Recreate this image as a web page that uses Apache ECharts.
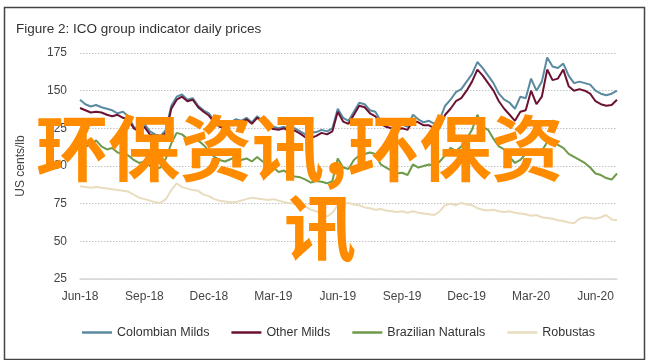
<!DOCTYPE html>
<html>
<head>
<meta charset="utf-8">
<script src="https://cdn.jsdelivr.net/npm/echarts@6/dist/echarts.min.js"></script>
<style>html,body{margin:0;padding:0;background:#fff;}#c{width:646px;height:360px;}</style>
</head>
<body>
<div id="c"></div>
<script>
// Months since 1 Jun 2018, one sample every quarter month
const STEP = 0.25;
const tickLabels = ['Jun-18','Sep-18','Dec-18','Mar-19','Jun-19','Sep-19','Dec-19','Mar-20','Jun-20'];
const seriesNames = ['Colombian Milds','Other Milds','Brazilian Naturals','Robustas'];

const colombianMilds = [144,141,139.5,140.5,139,138,137,135,136,133,126,124,128,123,121,120,124,140,146,147.5,144,145,140,137,135,130,127,126,129,131,130,132,129,133,130,127,126,125,126,124.5,125,123,121,122,122.5,124,123,125,138,132,130,136,142,141,137,136,130,128,127,126,127.5,126,134,131,129,130,128,131,140,144,149,151,156,161,169,165,160,155,148,144,142,138,146,145,158,150,156,172,166,165,168,160,155,156,155,154,150,148,147,148,150];
const otherMilds = [138.5,137,135.5,136,135.5,134,133,134,132,131,125,123,126,121,120,119,122,138,144,146,143,144,139,136,133.5,129,126,125,128,130,129,131,128,132,129,126,124.5,124,125,123,123.5,121.5,119,118.5,120,122,121,123,136,129.5,128,134,140,139,135,133,128,126,125,124,125,124,130,129,127,127,125,126,134,138,143,145,150,156,164,160,155,150,143,138,134,130,136,137,150,141,146,164,157,158,164,153,150,151,150,148,143,141,140,140.5,144];
const brazilianNaturals = [115,113,114,117,113,111,112,109,108,107,104,102,103,100,98,99,105,115,122,121,118,119,117,114,110,106,104,103,104.5,106,104,105,103,106,103,101,99,96,97,94,93,92.5,91,89,90,89.5,88.5,90,105,99,98,104,107,108,109,108,101,99,97,95,95.5,94,101,99,100,101,100,103,107,112,110,113,118,124,134,126,124,118,113,111,106,102,104,108,109,111,110,116,117.5,114,112,108,106,104,102,99,95,94,92,91,95];
const robustas = [86.5,86,85.5,86,85.5,85,84.5,84,83.5,83,81,79,78,77,76,75.5,78,84,88.5,86,85,84,83.5,81,80,78,77,76.5,76,76,77,78,79,78.5,78,77.5,78,77,76,75.5,75,74,73,71,70,68,66.5,69,74,75,75.5,74.5,74,72.5,72,71,71.5,70.5,70,69.5,70,69,70,69,68.5,68,67.5,70,74,75,74,75.5,74.5,74,72,71,70.5,71,70,69.5,70,69,68.5,68,67,67.5,66,65.5,65,64,63.5,62.5,62,65,66,65.5,65,66,67.5,64.5,64];

const colors = ['#5a8a9f','#6b1232','#6e9a4b','#e9dcbf'];
const allData = [colombianMilds, otherMilds, brazilianNaturals, robustas];

const chart = echarts.init(document.getElementById('c'), null, {renderer:'canvas'});
const font = 'Liberation Sans';
chart.setOption({
  animation: false,
  backgroundColor: '#fff',
  title: {
    text: 'Figure 2: ICO group indicator daily prices',
    left: 11, top: 17,
    textStyle: {fontFamily: font, fontSize: 13.5, fontWeight: 'normal', color: '#333'}
  },
  legend: {
    left: 77, top: 321,
    icon: 'rect',
    itemWidth: 30, itemHeight: 2.5, itemGap: 22,
    textStyle: {fontFamily: font, fontSize: 12.5, color: '#333'},
    data: seriesNames
  },
  grid: {left: 80, right: 29, top: 53, bottom: 81},
  xAxis: {
    type: 'value', min: 0, max: 25, interval: 3,
    axisLine: {show: true, lineStyle: {color: '#d6d6d6', width: 1.5}},
    axisTick: {show: false},
    splitLine: {show: false},
    axisLabel: {
      fontFamily: font, fontSize: 12, color: '#444', margin: 12,
      showMaxLabel: false,
      formatter: v => (v % 3 === 0 && tickLabels[v/3] !== undefined) ? tickLabels[v/3] : ''
    }
  },
  yAxis: {
    type: 'value', min: 25, max: 175, interval: 25,
    name: 'US cents/lb', nameLocation: 'middle', nameGap: 53, nameRotate: 90,
    nameTextStyle: {fontFamily: font, fontSize: 12, color: '#444'},
    axisLine: {show: false}, axisTick: {show: false},
    axisLabel: {fontFamily: font, fontSize: 12, color: '#444', margin: 13},
    splitLine: {show: true, lineStyle: {color: '#c4c4c4', type: [1.5,1.5], width: 1}}
  },
  series: seriesNames.map((n, k) => ({
    name: n, type: 'line', symbol: 'none', showSymbol: false,
    color: colors[k],
    lineStyle: {color: colors[k], width: 2},
    data: allData[k].map((v, i) => [i * STEP, v])
  })),
  graphic: [
    {type: 'rect', left: 2, top: 5, z: 100, silent: true,
     shape: {width: 640, height: 352},
     style: {fill: 'none', stroke: '#444', lineWidth: 1.5}},
    {type: 'text', left: 36, top: 112, z: 100,
     style: {text: '环保资讯,环保资', fill: '#ff8c00', fontSize: 72, fontWeight: 'bold', fontFamily: 'Noto Sans CJK SC'}},
    {type: 'text', left: 284, top: 192, z: 100,
     style: {text: '讯', fill: '#ff8c00', fontSize: 72, fontWeight: 'bold', fontFamily: 'Noto Sans CJK SC'}}
  ]
});
</script>
</body>
</html>
